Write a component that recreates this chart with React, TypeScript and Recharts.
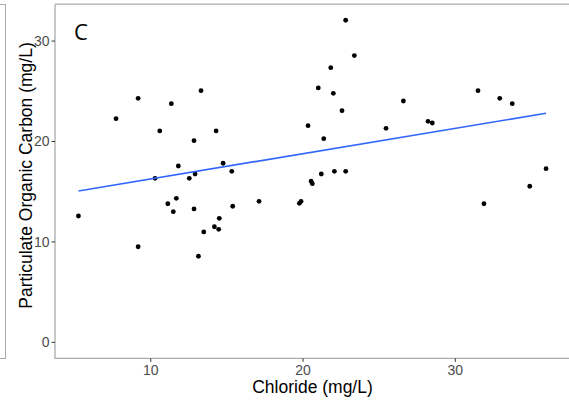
import { ReferenceLine, Scatter, ScatterChart, XAxis, YAxis } from "recharts";

// chloride (mg/L) and particulate organic carbon (mg/L), read point by point
const chloride = [
  9.17, 11.35, 7.72, 10.59, 11.81, 10.28, 12.53, 11.68, 11.12, 11.48, 5.25, 9.17,
  13.3, 14.29, 12.84, 14.75, 12.91, 15.32, 12.84, 15.38, 17.11, 14.5, 14.18, 14.46,
  13.48, 13.13, 22.8, 23.37, 21.82, 21.0, 21.99, 22.56, 20.33, 25.45, 21.36, 21.2,
  22.06, 22.8, 20.53, 20.61, 19.76, 19.87, 26.59, 31.49, 32.92, 33.74, 28.21, 28.49,
  35.96, 34.89, 31.88,
];
const poc = [
  24.3, 23.76, 22.27, 21.05, 17.56, 16.33, 16.33, 14.34, 13.8, 13.01, 12.58, 9.52,
  25.06, 21.05, 20.08, 17.83, 16.76, 17.03, 13.28, 13.55, 14.04, 12.35, 11.51, 11.25,
  10.99, 8.57, 32.07, 28.55, 27.35, 25.33, 24.8, 23.07, 21.57, 21.31, 20.28, 16.76,
  17.03, 17.03, 16.04, 15.8, 13.84, 14.04, 24.03, 25.06, 24.3, 23.76, 22.01, 21.84,
  17.29, 15.54, 13.8,
];

// fitted trend line, ends
const fitChloride = [5.25, 35.96];
const fitPoc = [15.07, 22.81];

const xTicks = [10, 20, 30];
const yTicks = [0, 10, 20, 30];
const X_DOMAIN: [number, number] = [3.71, 37.5];
const Y_DOMAIN: [number, number] = [-1.6, 33.67];

const FONT = "'Liberation Sans', Arial, sans-serif";
const BORDER = "#ababab";

const puntos = chloride.map((x, i) => ({ x, y: poc[i] }));
const tendencia = fitChloride.map((x, i) => ({ x, y: fitPoc[i] }));

const Dot = (props: any) => <circle cx={props.cx} cy={props.cy} r={2.4} fill="#000" />;

export default function App() {
  return (
    <div
      style={{
        position: "absolute",
        left: 0,
        top: 0,
        width: 569,
        height: 401,
        overflow: "hidden",
        background: "#fff",
        fontFamily: FONT,
      }}
    >
      {/* edge of the neighbouring panel */}
      <div
        style={{
          position: "absolute",
          left: -10,
          top: 4,
          width: 14,
          height: 353,
          border: `1px solid ${BORDER}`,
        }}
      />
      <ScatterChart
        width={580}
        height={401}
        margin={{ top: 4.2, right: 10.5, bottom: 2.6, left: 5 }}
      >
        <XAxis
          type="number"
          dataKey="x"
          domain={X_DOMAIN}
          allowDataOverflow
          ticks={xTicks}
          height={40}
          tickSize={3.5}
          tickMargin={3.2}
          axisLine={{ stroke: BORDER, strokeWidth: 1.3 }}
          tickLine={{ stroke: "#333" }}
          tick={{ fill: "#4d4d4d", fontSize: 14, fontFamily: FONT }}
          label={{
            content: () => (
              <text x={312.5} y={393} textAnchor="middle" fontSize={17.5} fontFamily={FONT} fill="#000">
                Chloride (mg/L)
              </text>
            ),
          }}
        />
        <YAxis
          type="number"
          dataKey="y"
          domain={Y_DOMAIN}
          allowDataOverflow
          ticks={yTicks}
          width={50}
          tickSize={3.5}
          tickMargin={2}
          axisLine={{ stroke: BORDER, strokeWidth: 1.3 }}
          tickLine={{ stroke: "#333" }}
          tick={{ fill: "#4d4d4d", fontSize: 14, fontFamily: FONT }}
          label={{
            content: () => (
              <text
                x={31.5}
                y={175.5}
                transform="rotate(-90 31.5 175.5)"
                textAnchor="middle"
                fontSize={17.5}
                fontFamily={FONT}
                fill="#000"
              >
                Particulate Organic Carbon (mg/L)
              </text>
            ),
          }}
        />
        <ReferenceLine y={Y_DOMAIN[1]} stroke={BORDER} strokeWidth={1.3} />
        <Scatter data={puntos} shape={Dot} isAnimationActive={false} />
        <Scatter
          data={tendencia}
          line={{ stroke: "#3366ff", strokeWidth: 1.7 }}
          shape={() => <g />}
          isAnimationActive={false}
        />
      </ScatterChart>
      <div
        style={{
          position: "absolute",
          left: 74,
          top: 18,
          fontSize: 22,
          fontFamily: "'Open Sans', 'Noto Sans', sans-serif",
          color: "#000",
          lineHeight: "26px",
        }}
      >
        C
      </div>
    </div>
  );
}
